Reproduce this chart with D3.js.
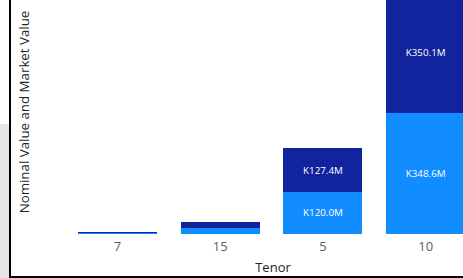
<!DOCTYPE html>
<html>
<head>
<meta charset="utf-8">
<script src="https://cdn.jsdelivr.net/npm/d3@7"></script>
<style>
  html, body { margin: 0; padding: 0; background: #fff; overflow: hidden; }
  svg { display: block; font-family: "Segoe UI", "Open Sans", sans-serif; }
</style>
</head>
<body>
<svg id="chart" width="463" height="278"></svg>
<script>
const tenors = ["7", "15", "5", "10"];
const nominalValues = [0.2, 17.0, 120.0, 348.6];   // bottom series (light blue)
const marketValues = [2.8, 16.8, 127.4, 350.1];    // top series (dark blue)
const seriesNames = ["Nominal Value", "Market Value"];
const yTitle = "Nominal Value and Market Value";
const xTitle = "Tenor";

const data = tenors.map((t, i) => ({ tenor: t, "Nominal Value": nominalValues[i], "Market Value": marketValues[i] }));
const stacked = d3.stack().keys(seriesNames)(data);

const svg = d3.select("#chart");
const W = 463, H = 278;

svg.append("rect").attr("x", 0).attr("y", 124).attr("width", 9).attr("height", H - 124).attr("fill", "#e6e6e6");

const x = d3.scaleBand().domain(tenors).range([66.2, 477]).paddingInner(0.23).paddingOuter(0.115);
const baseY = 233.5;
const y = d3.scaleLinear().domain([0, 700]).range([baseY, baseY - 700 * 0.3448]);

const colors = d3.scaleOrdinal().domain(seriesNames).range(["#118DFF", "#12239E"]);

const g = svg.append("g");
stacked.forEach(layer => {
  g.selectAll(null).data(layer).enter().append("rect")
    .attr("x", d => x(d.data.tenor))
    .attr("width", x.bandwidth())
    .attr("y", d => y(d[1]))
    .attr("height", d => Math.max(0, y(d[0]) - y(d[1])))
    .attr("shape-rendering", "crispEdges")
    .attr("fill", colors(layer.key));
});

const fmt = v => "K" + d3.format(".1f")(v) + "M";
stacked.forEach(layer => {
  g.selectAll(null).data(layer.filter(d => y(d[0]) - y(d[1]) > 20)).enter().append("text")
    .attr("x", d => x(d.data.tenor) + x.bandwidth() / 2)
    .attr("y", d => (y(d[0]) + y(d[1])) / 2)
    .attr("dy", "0.35em")
    .attr("text-anchor", "middle")
    .attr("fill", "#ffffff")
    .attr("font-size", "9.8px")
    .text(d => fmt(d[1] - d[0]));
});

const xAxis = d3.axisBottom(x).tickSize(0).tickPadding(0);
const ax = svg.append("g").attr("transform", `translate(0, ${baseY})`).call(xAxis);
ax.select(".domain").remove();
ax.selectAll("text").attr("font-size", "13px").attr("fill", "#605E5C")
  .attr("font-family", "'Segoe UI', 'Open Sans', sans-serif")
  .attr("dy", null).attr("y", 17.5);

svg.append("text").attr("x", 273).attr("y", 271.5).attr("text-anchor", "middle")
  .attr("font-size", "13px").attr("fill", "#252423").text(xTitle);

svg.append("text").attr("transform", "translate(28.5, 112) rotate(-90)")
  .attr("text-anchor", "middle").attr("font-size", "13.3px").attr("fill", "#252423").text(yTitle);

svg.append("rect").attr("x", 9).attr("y", 0).attr("width", 2).attr("height", H).attr("fill", "#000");
svg.append("rect").attr("x", 9).attr("y", 276).attr("width", W - 9).attr("height", 2).attr("fill", "#000");
</script>
</body>
</html>
